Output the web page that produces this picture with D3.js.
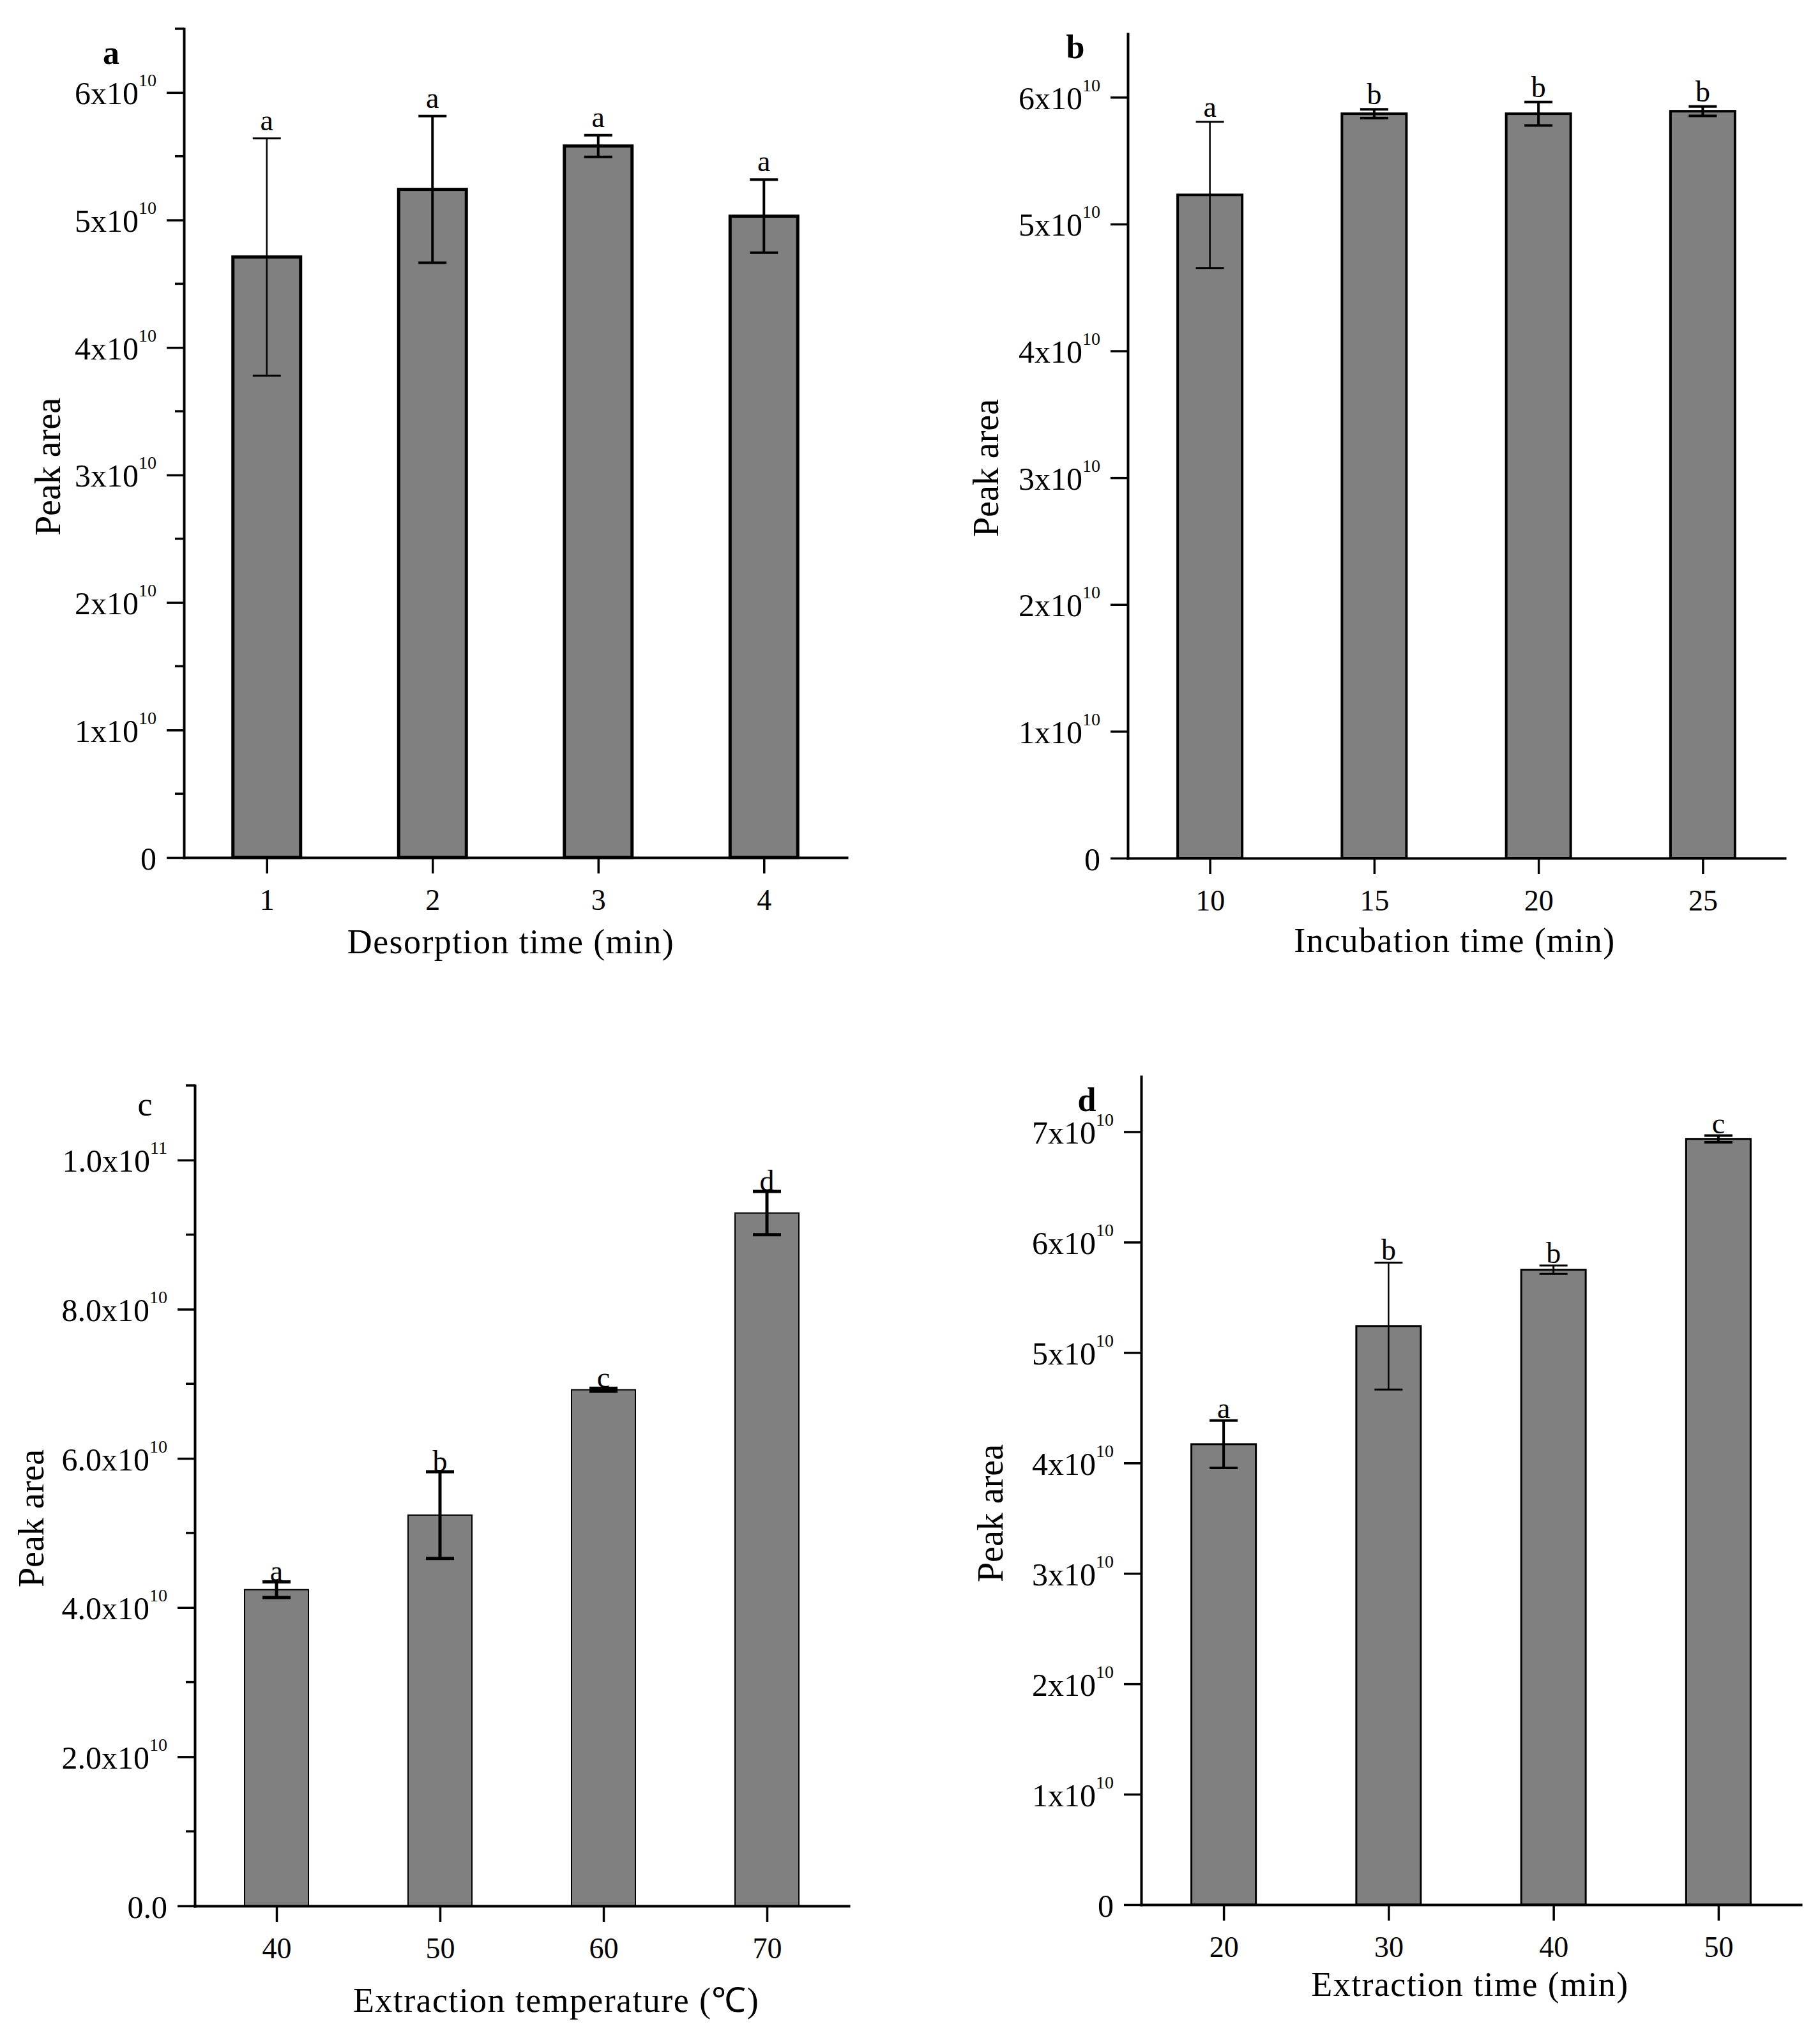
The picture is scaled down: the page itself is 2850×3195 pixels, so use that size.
<!DOCTYPE html>
<html>
<head>
<meta charset="utf-8">
<script src="https://cdn.jsdelivr.net/npm/d3@7"></script>
<style>
  html, body { margin: 0; padding: 0; background: #fff; }
  svg { display: block; }
  text { font-family: "Liberation Serif", "Times New Roman", serif; fill: #000; }
</style>
</head>
<body>
<svg id="chart" width="2850" height="3195"></svg>
<script>
// ---------------- DATA ----------------
// Panel a: desorption time
const categoriesA = ["1", "2", "3", "4"];
const meansA = [4.71e10, 5.24e10, 5.58e10, 5.03e10];
const errorsA = [0.93e10, 0.575e10, 0.085e10, 0.287e10];
const lettersA = ["a", "a", "a", "a"];

// Panel b: incubation time
const categoriesB = ["10", "15", "20", "25"];
const meansB = [5.23e10, 5.87e10, 5.87e10, 5.89e10];
const errorsB = [0.577e10, 0.035e10, 0.092e10, 0.037e10];
const lettersB = ["a", "b", "b", "b"];

// Panel c: extraction temperature
const categoriesC = ["40", "50", "60", "70"];
const meansC = [4.24e10, 5.24e10, 6.92e10, 9.29e10];
const errorsC = [0.105e10, 0.58e10, 0.02e10, 0.29e10];
const lettersC = ["a", "b", "c", "d"];

// Panel d: extraction time
const categoriesD = ["20", "30", "40", "50"];
const meansD = [4.17e10, 5.24e10, 5.75e10, 6.935e10];
const errorsD = [0.215e10, 0.575e10, 0.038e10, 0.03e10];
const lettersD = ["a", "b", "b", "c"];

// Y tick values and labels
const yTicksAB = [0, 1e10, 2e10, 3e10, 4e10, 5e10, 6e10];
const yMinorA = [0.5e10, 1.5e10, 2.5e10, 3.5e10, 4.5e10, 5.5e10, 6.5e10];
const yMantAB = ["0", "1x10", "2x10", "3x10", "4x10", "5x10", "6x10"];
const yExpAB = ["", "10", "10", "10", "10", "10", "10"];

const yTicksC = [0, 2e10, 4e10, 6e10, 8e10, 1e11];
const yMinorC = [1e10, 3e10, 5e10, 7e10, 9e10, 1.1e11];
const yMantC = ["0.0", "2.0x10", "4.0x10", "6.0x10", "8.0x10", "1.0x10"];
const yExpC = ["", "10", "10", "10", "10", "11"];

const yTicksD = [0, 1e10, 2e10, 3e10, 4e10, 5e10, 6e10, 7e10];
const yMantD = ["0", "1x10", "2x10", "3x10", "4x10", "5x10", "6x10", "7x10"];
const yExpD = ["", "10", "10", "10", "10", "10", "10", "10"];

const yMaxes = [6.5e10, 6.5e10, 1.1e11, 7.5e10];
const xTitles = ["Desorption time (min)", "Incubation time (min)", "Extraction temperature (\u2103)", "Extraction time (min)"];
const yTitle = "Peak area";
const panelLabels = ["a", "b", "c", "d"];

// ---------------- LAYOUT / STYLE ----------------
const layouts = [
  { left: 288, right: 1326, top: 45, bottom: 1343, yTitleX: 76, yTitleY: 731, xTitleX: 800, xTitleY: 1493, labX: 174, labY: 100, labW: "bold", gap: 13, barW: 106, barStroke: 5, errW: [2.5, 4, 4, 4] },
  { left: 1766, right: 2795, top: 53, bottom: 1344, yTitleX: 1545, yTitleY: 733, xTitleX: 2278, xTitleY: 1491, labX: 1684, labY: 91, labW: "bold", gap: 8, barW: 101, barStroke: 4, errW: [2.5, 4, 4, 4] },
  { left: 305, right: 1329, top: 1700, bottom: 2985, yTitleX: 50, yTitleY: 2378, xTitleX: 871, xTitleY: 3151, labX: 227, labY: 1747, labW: "normal", gap: 1, barW: 100, barStroke: 2, errW: [5, 5, 5, 5] },
  { left: 1787, right: 2820, top: 1686, bottom: 2983, yTitleX: 1552, yTitleY: 2370, xTitleX: 2302, xTitleY: 3126, labX: 1702, labY: 1740, labW: "bold", gap: 4, barW: 101, barStroke: 3, errW: [4, 2.5, 3, 4] }
];

const panels = [
  { cats: categoriesA, means: meansA, errs: errorsA, letters: lettersA, ticks: yTicksAB, mant: yMantAB, exp: yExpAB, minor: yMinorA },
  { cats: categoriesB, means: meansB, errs: errorsB, letters: lettersB, ticks: yTicksAB, mant: yMantAB, exp: yExpAB, minor: [] },
  { cats: categoriesC, means: meansC, errs: errorsC, letters: lettersC, ticks: yTicksC, mant: yMantC, exp: yExpC, minor: yMinorC },
  { cats: categoriesD, means: meansD, errs: errorsD, letters: lettersD, ticks: yTicksD, mant: yMantD, exp: yExpD, minor: [] }
];

const svg = d3.select("#chart");
svg.append("rect").attr("width", 2850).attr("height", 3195).attr("fill", "#fff");

panels.forEach((p, k) => {
  const L = layouts[k];
  const n = p.cats.length;
  const idx = d3.range(n);
  const x = d3.scaleLinear().domain([-0.5, n - 0.5]).range([L.left, L.right]);
  const y = d3.scaleLinear().domain([0, yMaxes[k]]).range([L.bottom, L.top]);
  const g = svg.append("g");

  // bars
  g.selectAll("rect.bar").data(idx).join("rect")
    .attr("class", "bar")
    .attr("x", i => x(i) - L.barW / 2)
    .attr("y", i => y(p.means[i]))
    .attr("width", L.barW)
    .attr("height", i => y(0) - y(p.means[i]))
    .attr("fill", "#808080")
    .attr("stroke", "#000")
    .attr("stroke-width", L.barStroke);

  // error bars
  const eg = g.selectAll("g.err").data(idx).join("g").attr("class", "err");
  eg.append("line")
    .attr("x1", i => x(i)).attr("x2", i => x(i))
    .attr("y1", i => y(p.means[i] + p.errs[i]))
    .attr("y2", i => y(p.means[i] - p.errs[i]))
    .attr("stroke", "#000").attr("stroke-width", i => L.errW[i]);
  [1, -1].forEach(s => {
    eg.append("line")
      .attr("x1", i => x(i) - 22).attr("x2", i => x(i) + 22)
      .attr("y1", i => y(p.means[i] + s * p.errs[i]))
      .attr("y2", i => y(p.means[i] + s * p.errs[i]))
      .attr("stroke", "#000").attr("stroke-width", i => Math.max(3, L.errW[i]));
  });

  // significance letters
  g.selectAll("text.sig").data(idx).join("text")
    .attr("class", "sig")
    .attr("x", i => x(i))
    .attr("y", i => y(p.means[i] + p.errs[i]) - L.gap)
    .attr("text-anchor", "middle")
    .attr("font-size", 46)
    .text(i => p.letters[i]);

  // y axis
  const yAxis = d3.axisLeft(y).tickValues(p.ticks).tickSize(27).tickSizeOuter(0).tickPadding(16);
  const ya = g.append("g").attr("transform", `translate(${L.left},0)`).call(yAxis);
  ya.select(".domain").attr("stroke-width", 4).attr("stroke-linecap", "square");
  ya.selectAll(".tick line").attr("stroke-width", 3.5);
  ya.selectAll(".tick text").each(function (d, i) {
    const t = d3.select(this);
    t.text(null)
      .attr("x", -43).attr("y", 18).attr("dy", null)
      .attr("text-anchor", "end")
      .attr("font-size", 50)
      .attr("font-family", "Liberation Serif, Times New Roman, serif");
    t.append("tspan").text(p.mant[i]);
    if (p.exp[i]) {
      t.append("tspan").attr("dy", -28).attr("font-size", 28).text(p.exp[i]);
    }
  });
  // minor ticks
  ya.selectAll("line.minor").data(p.minor).join("line")
    .attr("class", "minor")
    .attr("x1", -14).attr("x2", 0)
    .attr("y1", d => y(d)).attr("y2", d => y(d))
    .attr("stroke", "#000").attr("stroke-width", 3.5);

  // x axis
  const xAxis = d3.axisBottom(x).tickValues(idx).tickSize(25).tickSizeOuter(0)
    .tickFormat(i => p.cats[i]);
  const xa = g.append("g").attr("transform", `translate(0,${L.bottom})`).call(xAxis);
  xa.select(".domain").attr("stroke-width", 4).attr("stroke-linecap", "square");
  xa.selectAll(".tick line").attr("stroke-width", 3.5);
  xa.selectAll(".tick text")
    .attr("y", 82).attr("dy", null)
    .attr("font-size", 46)
    .attr("font-family", "Liberation Serif, Times New Roman, serif");

  // axis titles
  g.append("text")
    .attr("x", L.xTitleX).attr("y", L.xTitleY)
    .attr("text-anchor", "middle")
    .attr("font-size", 54)
    .attr("letter-spacing", 1.4)
    .text(xTitles[k]);
  g.append("text")
    .attr("transform", `translate(${L.yTitleX},${L.yTitleY}) rotate(-90)`)
    .attr("text-anchor", "middle")
    .attr("dy", "0.33em")
    .attr("font-size", 56)
    .text(yTitle);

  // panel label
  g.append("text")
    .attr("x", L.labX).attr("y", L.labY)
    .attr("text-anchor", "middle")
    .attr("font-size", 52)
    .attr("font-weight", L.labW)
    .text(panelLabels[k]);
});
</script>
</body>
</html>
